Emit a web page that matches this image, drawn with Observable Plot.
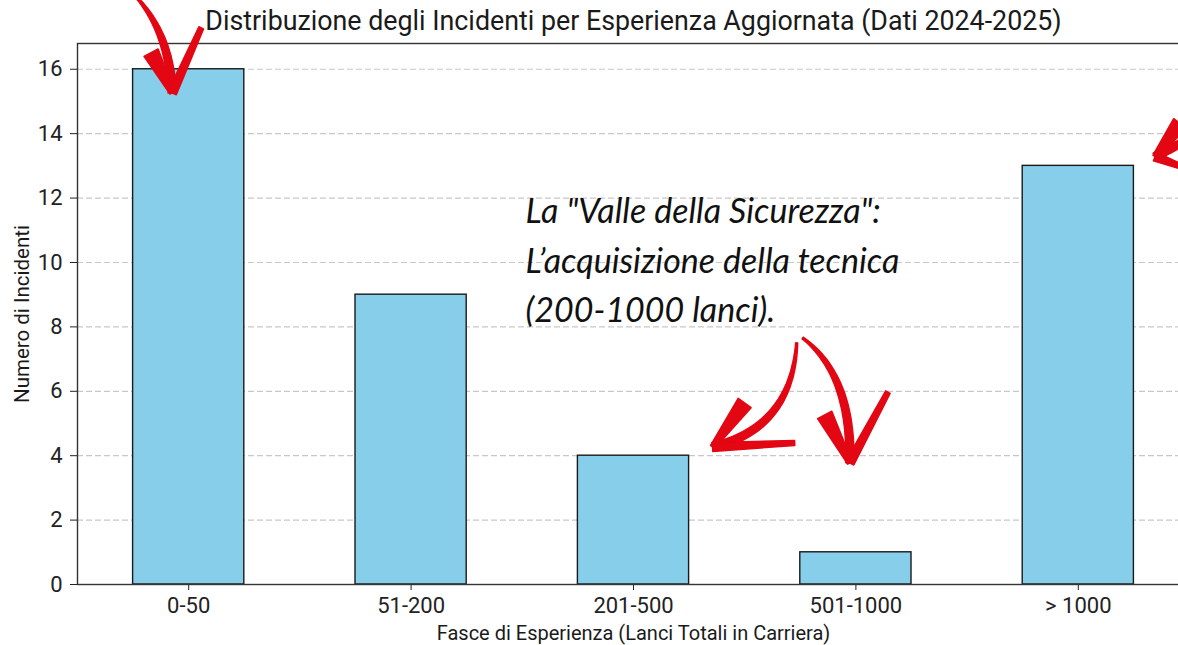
<!DOCTYPE html>
<html><head><meta charset="utf-8">
<script src="https://cdn.jsdelivr.net/npm/d3@7"></script>
<script src="https://cdn.jsdelivr.net/npm/@observablehq/plot@0.6"></script>
<style>
html,body{margin:0;padding:0;background:#fff;overflow:hidden;}
#chart{width:1178px;height:645px;overflow:hidden;}
#chart svg{max-width:none !important;width:1190px !important;height:645px !important;}
</style></head><body><div id="chart"></div>
<script>
// ---- data ----
const categories = ["0-50", "51-200", "201-500", "501-1000", "> 1000"];
const incidents = [16, 9, 4, 1, 13];
const yTicks = [0, 2, 4, 6, 8, 10, 12, 14, 16];
const titleText = "Distribuzione degli Incidenti per Esperienza Aggiornata (Dati 2024-2025)";
const xLabel = "Fasce di Esperienza (Lanci Totali in Carriera)";
const yLabel = "Numero di Incidenti";
const noteLines = ["La \"Valle della Sicurezza\":", "L\u2019acquisizione della tecnica", "(200-1000 lanci)."];
const noteY = [11.56, 10.0, 8.5];
// arrows in (category-index, count) units: start, control, tip, barb1, barb2
const arrowStarts = [[-0.23, 18.2], [4.69, 14.6], [2.736, 7.49], [2.763, 7.64]];
const arrowControls = [[-0.083, 17.07], [4.5, 13.8], [2.714, 4.85], [2.984, 6.49]];
const arrowTips = [[-0.072, 15.25], [4.347, 13.27], [2.358, 4.256], [2.975, 3.76]];
const arrowBarbsA = [[-0.167, 16.5], [4.46, 14.3], [2.502, 5.62], [2.862, 5.25]];
const arrowBarbsB = [[0.0585, 17.27], [4.47, 12.95], [2.727, 4.38], [3.146, 5.96]];

const rows = categories.map((c, i) => ({cat: c, value: incidents[i]}));
const notes = noteLines.map((t, i) => ({text: t, y: noteY[i]}));
const arrows = arrowStarts.map((s, i) => ({s, c: arrowControls[i], t: arrowTips[i], a: arrowBarbsA[i], b: arrowBarbsB[i]}));

const RED = "#e30613";
const FONT = "Roboto, sans-serif";

function arrowMark(index, scales, values, dims) {
  const sx = scales.x, sy = scales.y;
  const bw = typeof sx.bandwidth === "function" ? sx.bandwidth() : 0;
  const c0 = sx(categories[0]) + bw / 2;
  const step = sx(categories[1]) + bw / 2 - c0;
  const P = ([xi, v]) => [c0 + xi * step, sy(v)];
  const ns = "http://www.w3.org/2000/svg";
  const g = document.createElementNS(ns, "g");
  g.setAttribute("fill", RED);
  const taper = (A, B, wa, wb) => {
    const dx = B[0] - A[0], dy = B[1] - A[1], L = Math.hypot(dx, dy) || 1;
    const nx = -dy / L, ny = dx / L;
    return [[A[0] + nx * wa / 2, A[1] + ny * wa / 2], [B[0] + nx * wb / 2, B[1] + ny * wb / 2],
            [B[0] - nx * wb / 2, B[1] - ny * wb / 2], [A[0] - nx * wa / 2, A[1] - ny * wa / 2]];
  };
  const poly = pts => {
    const p = document.createElementNS(ns, "path");
    p.setAttribute("d", "M" + pts.map(q => q[0].toFixed(1) + "," + q[1].toFixed(1)).join("L") + "Z");
    p.setAttribute("stroke", RED);
    p.setAttribute("stroke-width", "1.5");
    p.setAttribute("stroke-linejoin", "round");
    g.appendChild(p);
  };
  for (const a of arrows) {
    const S = P(a.s), C = P(a.c), T = P(a.t), A = P(a.a), B = P(a.b);
    const n = 40, left = [], right = [];
    for (let k = 0; k <= n; k++) {
      const t = k / n;
      const x = (1 - t) * (1 - t) * S[0] + 2 * (1 - t) * t * C[0] + t * t * T[0];
      const y = (1 - t) * (1 - t) * S[1] + 2 * (1 - t) * t * C[1] + t * t * T[1];
      const dx = 2 * (1 - t) * (C[0] - S[0]) + 2 * t * (T[0] - C[0]);
      const dy = 2 * (1 - t) * (C[1] - S[1]) + 2 * t * (T[1] - C[1]);
      const L = Math.hypot(dx, dy) || 1;
      const w = 2 + 6 * Math.sin(Math.min(1, t * 1.1) * Math.PI / 2);
      left.push([x - dy / L * w / 2, y + dx / L * w / 2]);
      right.push([x + dy / L * w / 2, y - dx / L * w / 2]);
    }
    poly(left.concat(right.reverse()));
    poly(taper(A, T, 16, 5));
    poly(taper(B, T, 5, 9));
  }
  return g;
}

const chart = Plot.plot({
  width: 1190,
  height: 645,
  marginTop: 43,
  marginBottom: 61,
  marginLeft: 77,
  marginRight: 1,
  style: {fontFamily: FONT, background: "#fff", overflow: "visible"},
  x: {domain: categories, paddingInner: 0.5, paddingOuter: 0.25, round: false, label: null},
  y: {domain: [0, 16.8], label: null},
  marks: [
    Plot.ruleY(yTicks.slice(1), {stroke: "#c8c8c8", strokeWidth: 1.2, strokeDasharray: "6,3"}),
    Plot.barY(rows, {x: "cat", y: "value", fill: "#87ceeb", stroke: "#1a1a1a", strokeWidth: 1.4}),
    Plot.axisY({ticks: yTicks, tickSize: 7, tickPadding: 8, fontSize: 22, color: "#222", label: null, tickFormat: d => d}),
    Plot.axisX({tickSize: 6, tickPadding: 7, fontSize: 22, color: "#222", label: null}),
    Plot.frame({stroke: "#333", strokeWidth: 1.4}),
    Plot.text([titleText], {frameAnchor: "top", lineAnchor: "middle", textAnchor: "middle", dy: -22, fontSize: 26.8, fill: "#1a1a1a", text: d => d}),
    Plot.text([xLabel], {frameAnchor: "bottom", lineAnchor: "middle", textAnchor: "middle", dy: 49, fontSize: 20, fill: "#1a1a1a", text: d => d}),
    Plot.text([yLabel], {frameAnchor: "left", lineAnchor: "middle", textAnchor: "middle", dx: -55, rotate: -90, fontSize: 20.5, fill: "#1a1a1a", text: d => d}),
    Plot.text(notes, {x: () => categories[2], y: "y", text: "text", dx: -108, textAnchor: "start", fontSize: 34, fontStyle: "italic", fontFamily: "Lato, sans-serif", fill: "#111"}),
    arrowMark
  ]
});
document.getElementById("chart").appendChild(chart);
</script></body></html>
